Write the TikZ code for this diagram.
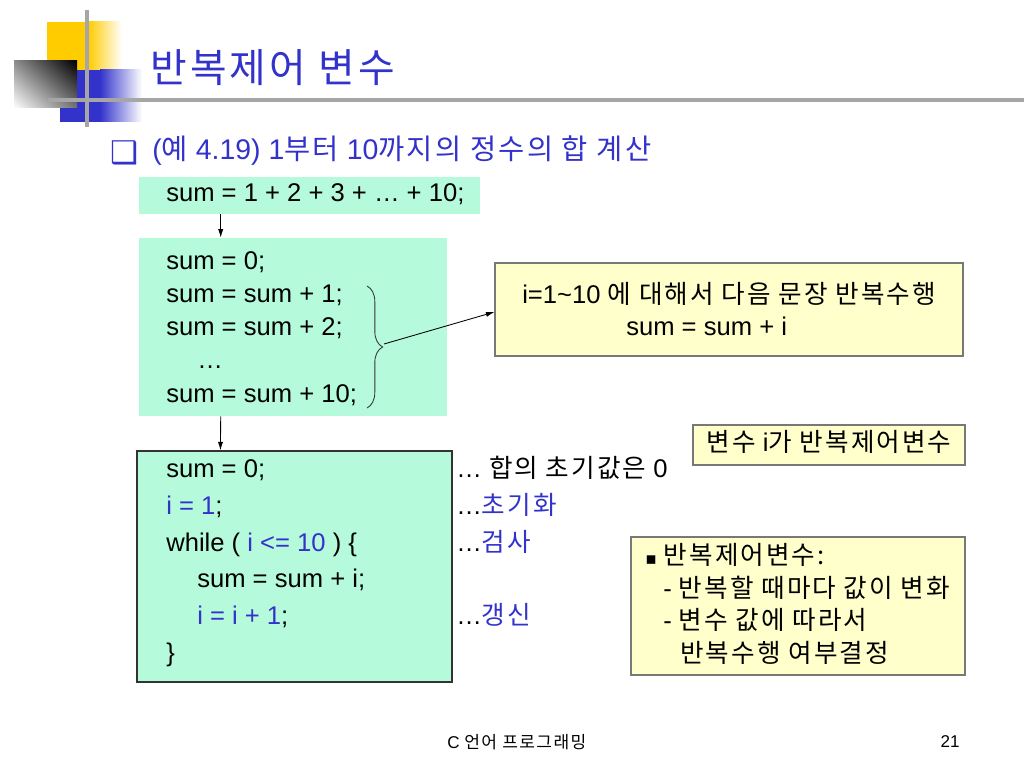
\documentclass[tikz,border=0pt]{standalone}
\usepackage{fontspec}
\setmainfont{Liberation Sans}
\newfontfamily\krfont[LetterSpace=8]{Noto Sans CJK KR}
\newfontfamily\symfont{DejaVu Sans}
\newcommand{\kr}[1]{{\krfont #1}}
\usepackage{tikz}
\usetikzlibrary{positioning,arrows.meta,fit,calc,decorations.pathreplacing,shadings}
\definecolor{titleblue}{RGB}{51,51,204}
\definecolor{mint}{RGB}{182,250,220}
\definecolor{noteyellow}{RGB}{255,255,204}
\definecolor{notegray}{RGB}{120,120,120}
\definecolor{logoyellow}{RGB}{255,204,0}
\definecolor{logoline}{RGB}{166,166,166}

\begin{document}
\begin{tikzpicture}[x=0.703125pt, y=-0.703125pt,
  codeline/.style={anchor=west, inner sep=0pt, font=\fontsize{18}{21.6}\selectfont, text height=13pt, text depth=4pt},
  mintbox/.style={fill=mint, inner sep=0pt},
  notebox/.style={draw=notegray, fill=noteyellow, inner sep=0pt, line width=0.8pt},
  arr/.style={-{Latex[length=6pt,width=3.6pt]}, line width=0.6pt},
  >={Latex[length=2mm]}]
\useasboundingbox (0,0) rectangle (1024,768);
% logo
\fill[logoyellow] (47,22) rectangle (88,70);
\shade[left color=logoyellow, right color=white] (88,22) rectangle (122,70);
\fill[titleblue] (60,70) rectangle (100,122);
\shade[left color=titleblue, right color=white] (100,70) rectangle (142,122);
\shade[upper right=black, lower left=white, upper left=black!45, lower right=black!55] (14,61) rectangle (77,108);
\draw[logoline, line width=2.2pt] (87,10) -- (87,127);
\draw[logoline, line width=2.8pt] (48,100) -- (1024,100);
% title
\node[anchor=west, inner sep=0pt, text=titleblue, font=\fontsize{28}{33}\selectfont] (title) at (150,68) {\kr{반복제어 변수}};
\node[anchor=west, inner sep=0pt, text=titleblue, font=\fontsize{22}{26}\selectfont] (chk) at (110,153) {\symfont ❑};
\node[anchor=west, inner sep=0pt, text=titleblue, font=\fontsize{20}{24}\selectfont, text height=14pt, text depth=4pt] (subtitle) at (152,152)
  {(\kr{예} 4.19) 1\kr{부터} 10\kr{까지의 정수의 합 계산}};
% boxes
\node[mintbox, fit={(139,177) (480,214)}] (sumbox) {};
\node[mintbox, fit={(139,238) (447,416)}] (unrollbox) {};
\node[mintbox, draw=black!80, line width=0.8pt, fit={(137,451) (452,682)}] (loopbox) {};
\node[notebox, fit={(495,263) (963,356)}] (loopnote) {};
\node[notebox, fit={(693,425) (965,465)}] (ctrlnote) {};
\node[notebox, fit={(631,537) (965,675)}] (defnote) {};
% code lines
\node[codeline] (sumline) at (166,195) {sum = 1 + 2 + 3 + … + 10;};
\foreach \x/\y/\code [count=\n] in {166/263/{sum = 0;}, 166/296/{sum = sum + 1;}, 166/329/{sum = sum + 2;},
    197/362/{…}, 166/396/{sum = sum + 10;}}
  \node[codeline] (u\n) at (\x,\y) {\code};
\foreach \x/\y/\code [count=\n] in {166/471/{sum = 0;}, 166/508/{\textcolor{titleblue}{i = 1};},
    166/545/{while ( \textcolor{titleblue}{i <= 10} ) \{}, 197/581/{sum = sum + i;},
    197/618/{\textcolor{titleblue}{i = i + 1};}, 166/655/{\}}}
  \node[codeline] (w\n) at (\x,\y) {\code};
% comments
\node[codeline] (c1) at (456,471) {… \kr{합의 초기값은} 0};
\node[codeline] (c2) at (456,508) {…\kr{\color{titleblue}초기화}};
\node[codeline] (c3) at (456,545) {…\kr{\color{titleblue}검사}};
\node[codeline] (c4) at (456,618) {…\kr{\color{titleblue}갱신}};
% notes
\node[codeline] (n1) at (522,297) {i=1\textasciitilde 10 \kr{에 대해서 다음 문장 반복수행}};
\node[codeline] (n2) at (626,329) {sum = sum + i};
\node[codeline, anchor=center] (ctrltext) at (ctrlnote.center) {\kr{변수} i\kr{가 반복제어변수}};
\node[codeline] (d1) at (645,558) {{\symfont\fontsize{12}{14}\selectfont ▪} \kr{반복제어변수:}};
\node[codeline] (d2) at (663,591) {- \kr{반복할 때마다 값이 변화}};
\node[codeline] (d3) at (663,623) {- \kr{변수 값에 따라서}};
\node[codeline] (d4) at (680,656) {\kr{반복수행 여부결정}};
% connectors
\draw[arr] ($(sumbox.south west)+(82,0)$) -- ($(unrollbox.north west)+(82,0)$);
\draw[arr] ($(unrollbox.south west)+(82,0)$) -- ($(loopbox.north west)+(84,0)$);
\coordinate (bracetop) at (367,286);
\coordinate (bracebot) at (367,408);
\coordinate (bracetip) at (384,344);
\draw[black!80, line width=0.6pt, decorate, decoration={brace, amplitude=11pt}] (bracetop) -- (bracebot);
\draw[arr] (bracetip) -- (loopnote.west |- 0,312);
% footer
\node[anchor=west, inner sep=0pt, font=\fontsize{12}{14}\selectfont] (foot) at (447,742) {C \kr{언어 프로그래밍}};
\node[anchor=east, inner sep=0pt, font=\fontsize{12}{14}\selectfont] (page) at (960,742) {21};
\end{tikzpicture}
\end{document}
